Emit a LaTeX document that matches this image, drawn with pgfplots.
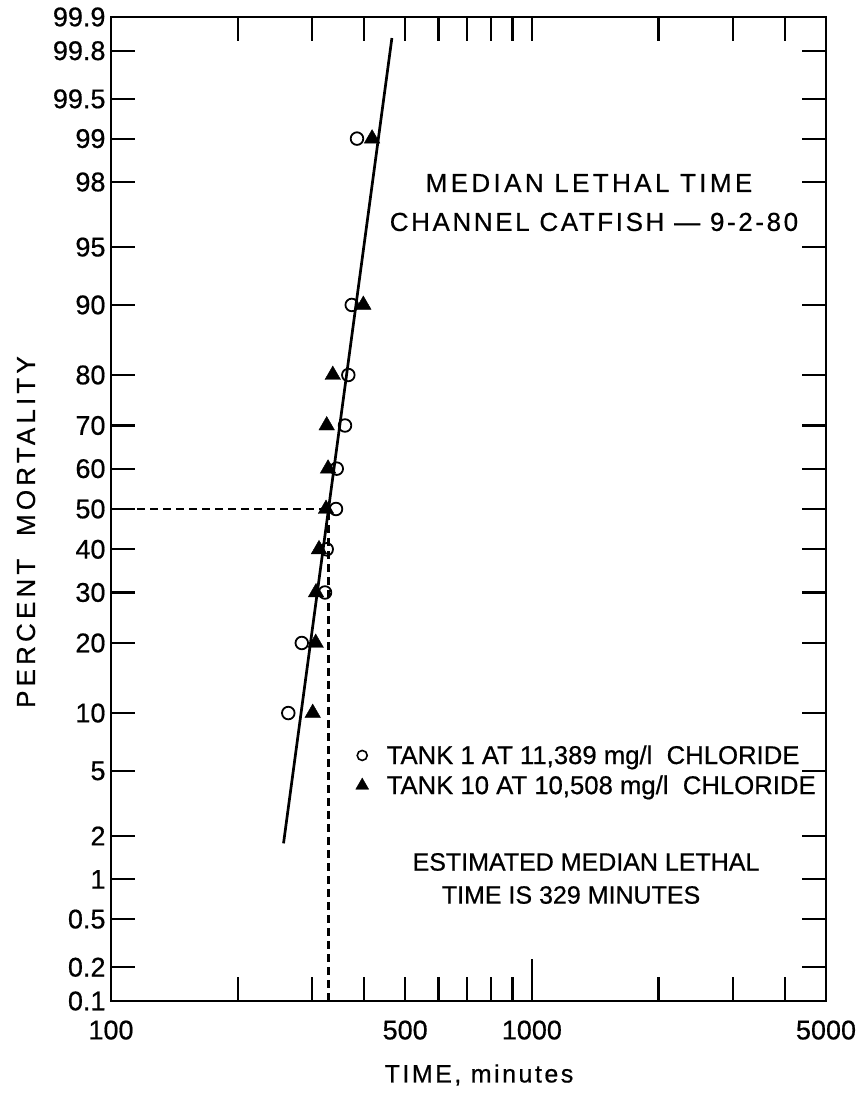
\documentclass[border=0pt]{standalone}
\usepackage{pgfplots}
\pgfplotsset{compat=1.18}
\usepackage{fontspec}
\setmainfont{Liberation Sans}[FakeBold=0.6]
\newfontfamily\spaced{Liberation Sans}[LetterSpace=10,FakeBold=0.6]
\newfontfamily\tspaced{Liberation Sans}[LetterSpace=13,FakeBold=0.6]
\newfontfamily\wspaced{Liberation Sans}[LetterSpace=16,FakeBold=0.6]
\newcommand\tickfont{\fontsize{27bp}{32bp}\selectfont}
\newcommand\T[1]{\tickfont #1}
\begin{document}
\begin{tikzpicture}
\begin{axis}[
  name=ax,
  scale only axis,
  width=715bp, height=984bp,
  xmode=log,
  xmin=100, xmax=5000,
  ymin=-3.0902, ymax=3.0902,
  clip=false,
  /pgf/number format/assume math mode=true,
  axis line style={line width=2.4bp},
  tick style={line width=2.2bp, black},
  tick align=inside,
  major tick length=24bp,
  xtick={100,200,300,400,500,600,700,800,900,1000,2000,3000,4000,5000},
  xticklabels={\T{100},,,,\T{500},,,,,\T{1000},,,,\T{5000}},
  ytick={-3.0902,-2.8782,-2.5758,-2.3263,-2.0537,-1.6449,-1.2816,-0.8416,-0.5244,-0.2533,0,0.2533,0.5244,0.8416,1.2816,1.6449,2.0537,2.3263,2.5758,2.8782,3.0902},
  yticklabels={\T{0.1},\T{0.2},\T{0.5},\T{1},\T{2},\T{5},\T{10},\T{20},\T{30},\T{40},\T{50},\T{60},\T{70},\T{80},\T{90},\T{95},\T{98},\T{99},\T{99.5},\T{99.8},\T{99.9}},
  minor tick num=0,
  every tick label/.append style={font=\tickfont},
  yticklabel style={font=\tickfont, xshift=-2bp},
  xticklabel style={font=\tickfont, yshift=-16bp},
  legend style={at={(rel axis cs:0.342,0.262)}, anchor=north west, draw=none, fill=none,
    font=\fontsize{25.7bp}{30bp}\selectfont, inner sep=0pt, row sep=6bp,
    /tikz/every odd column/.append style={column sep=16bp}},
  legend cell align=left,
]
\addlegendimage{only marks, mark=o, mark size=5bp, mark options={line width=1.6bp}}
\addlegendentry{TANK 1 AT 11,389 mg/l\ \ CHLORIDE}
\addlegendimage{only marks, mark=triangle*, mark size=7.5bp}
\addlegendentry{TANK 10 AT 10,508 mg/l\ \ CHLORIDE}

% long tick at 1000 (bottom only)
\draw[line width=2.2bp] (axis cs:1000,-3.0902) -- ([yshift=42bp]axis cs:1000,-3.0902);

% fitted line
\addplot[forget plot, black, line width=2.7bp] coordinates {(257,-2.10) (465,2.958)};
% median dashed lines
\addplot[forget plot, black, line width=2.4bp, dash pattern=on 8bp off 5bp] coordinates {(100,0) (329,0) (329,-3.0902)};

% Tank 1 (circles)
\addplot[forget plot, only marks, mark=o, mark size=6.3bp, mark options={line width=1.8bp, fill=white}] coordinates {
(384.2,2.3263) (373.3,1.2816) (366.4,0.8416) (359.8,0.5244) (343.9,0.2533)
(342.5,0) (325.5,-0.2533) (322.5,-0.5244) (284.0,-0.8416) (263.8,-1.2816)};
% Tank 10 (triangles)
\addplot[forget plot, only marks, mark=triangle*, mark size=9bp, black] coordinates {
(417.2,2.3263) (397.8,1.2816) (336.5,0.8416) (325.5,0.5244) (327.9,0.2533)
(324.3,0) (312.1,-0.2533) (307.0,-0.5244) (306.5,-0.8416) (301.5,-1.2816)};

\node[font=\tspaced\fontsize{26bp}{30bp}\selectfont] at (rel axis cs:0.6685,0.8313) {MEDIAN LETHAL TIME};
\node[font=\spaced\fontsize{26bp}{30bp}\selectfont] at (rel axis cs:0.6755,0.7917) {CHANNEL CATFISH — 9-2-80};
\node[font=\fontsize{25bp}{30bp}\selectfont] at (rel axis cs:0.6643,0.1413) {ESTIMATED MEDIAN LETHAL};
\node[font=\fontsize{25bp}{30bp}\selectfont] at (rel axis cs:0.6434,0.1077) {TIME IS 329 MINUTES};
\node[font=\wspaced\fontsize{26bp}{30bp}\selectfont, rotate=90] at (rel axis cs:-0.1189,0.4766) {PERCENT\ \ MORTALITY};
\node[font=\spaced\fontsize{25bp}{30bp}\selectfont] at (rel axis cs:0.5147,-0.0752) {TIME, minutes};
\end{axis}
\pgfresetboundingbox
\path ([xshift=-111bp,yshift=-94bp]ax.south west) rectangle ([xshift=35bp,yshift=17bp]ax.north east);
\end{tikzpicture}
\end{document}
